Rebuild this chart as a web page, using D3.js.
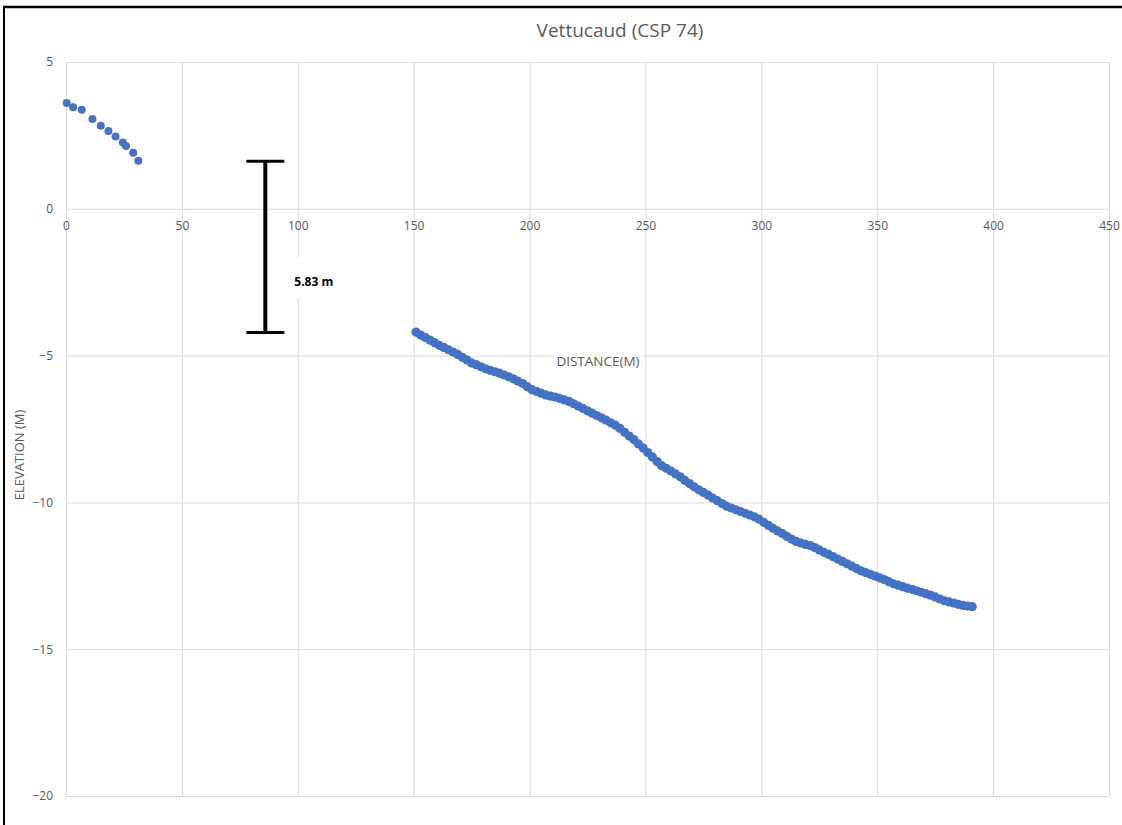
<!DOCTYPE html>
<html>
<head>
<meta charset="utf-8">
<script src="https://cdn.jsdelivr.net/npm/d3@7"></script>
<style>
  html, body { margin: 0; padding: 0; background: #ffffff; }
  svg { display: block; }
  text { font-family: "Open Sans", "Liberation Sans", sans-serif; }
</style>
</head>
<body>
<script>
// Beach profile survey, Vettucaud (CSP 74)
const chartTitle = "Vettucaud (CSP 74)";
const xTicks = [0, 50, 100, 150, 200, 250, 300, 350, 400, 450];
const yTicks = [5, 0, -5, -10, -15, -20];

// Land survey points (distance m, elevation m)
const landDistance = [0.3, 3.1, 6.8, 11.4, 15.0, 18.3, 21.4, 24.5, 25.9, 29.0, 31.2];
const landElevation = [3.60, 3.46, 3.37, 3.06, 2.83, 2.65, 2.46, 2.26, 2.14, 1.91, 1.64];

// Nearshore bathymetry points (distance m, elevation m)
const seaDistance = [
  151, 153, 155, 157, 159, 161, 163, 165, 167, 169, 171, 173, 175, 177, 179, 181,
  183, 185, 187, 189, 191, 193, 195, 197, 199, 201, 203, 205, 207, 209, 211, 213,
  215, 217, 219, 221, 223, 225, 227, 229, 231, 233, 235, 237, 239, 241, 243, 245,
  247, 249, 251, 253, 255, 257, 259, 261, 263, 265, 267, 269, 271, 273, 275, 277,
  279, 281, 283, 285, 287, 289, 291, 293, 295, 297, 299, 301, 303, 305, 307, 309,
  311, 313, 315, 317, 319, 321, 323, 325, 327, 329, 331, 333, 335, 337, 339, 341,
  343, 345, 347, 349, 351, 353, 355, 357, 359, 361, 363, 365, 367, 369, 371, 373,
  375, 377, 379, 381, 383, 385, 387, 389, 391
];
const seaElevation = [
  -4.20, -4.30, -4.38, -4.47, -4.56, -4.65, -4.72, -4.80, -4.88, -4.96, -5.06, -5.15, -5.25, -5.31, -5.38, -5.45,
  -5.50, -5.55, -5.60, -5.66, -5.72, -5.79, -5.87, -5.95, -6.06, -6.16, -6.22, -6.28, -6.34, -6.38, -6.41, -6.46,
  -6.51, -6.56, -6.64, -6.72, -6.80, -6.88, -6.96, -7.04, -7.12, -7.20, -7.29, -7.37, -7.48, -7.61, -7.74, -7.86,
  -8.01, -8.15, -8.30, -8.45, -8.61, -8.75, -8.84, -8.93, -9.03, -9.13, -9.25, -9.36, -9.47, -9.57, -9.66, -9.75,
  -9.85, -9.94, -10.04, -10.13, -10.19, -10.25, -10.31, -10.37, -10.43, -10.49, -10.57, -10.68, -10.78, -10.88, -10.97, -11.06,
  -11.16, -11.25, -11.33, -11.38, -11.43, -11.47, -11.54, -11.62, -11.70, -11.77, -11.85, -11.93, -12.01, -12.09, -12.17, -12.25,
  -12.33, -12.39, -12.45, -12.51, -12.57, -12.63, -12.70, -12.77, -12.82, -12.87, -12.92, -12.96, -13.01, -13.06, -13.11, -13.16,
  -13.22, -13.29, -13.35, -13.39, -13.43, -13.47, -13.51, -13.53, -13.55
];

// Elevation gap marker between the end of land and the start of the sea profile
const gapDistance = [86];
const gapTop = [1.62];
const gapBottom = [-4.21];

const W = 1122, H = 825;
const svg = d3.select("body").append("svg").attr("width", W).attr("height", H);

const x = d3.scaleLinear().domain([0, 450]).range([66, 1109]);
const y = d3.scaleLinear().domain([-20, 5]).range([796, 62]);

const grid = "#d9d9d9", textGrey = "#595959", blue = "#4472c4";

// frame edges
svg.append("line").attr("x1", 3).attr("x2", W).attr("y1", 7).attr("y2", 7)
  .attr("stroke", "#000").attr("stroke-width", 2.5);
svg.append("line").attr("x1", 4).attr("x2", 4).attr("y1", 6).attr("y2", H)
  .attr("stroke", "#000").attr("stroke-width", 2);

// vertical gridlines
const vGrid = svg.append("g").attr("transform", `translate(0,${y(-20)})`)
  .call(d3.axisBottom(x).tickValues(xTicks).tickSize(-(y(-20) - y(5))).tickFormat(""));
vGrid.select(".domain").remove();
vGrid.selectAll(".tick line").attr("stroke", grid).attr("stroke-width", 1);

// horizontal gridlines
const hGrid = svg.append("g").attr("transform", `translate(${x(0)},0)`)
  .call(d3.axisLeft(y).tickValues(yTicks).tickSize(-(x(450) - x(0))).tickFormat(""));
hGrid.select(".domain").remove();
hGrid.selectAll(".tick line").attr("stroke", grid).attr("stroke-width", 1);

// gap marker with its label (label box masks the gridline behind it)
const gap = gapDistance.map((d, i) => ({ d, top: gapTop[i], bottom: gapBottom[i] }));
const gapG = svg.append("g").selectAll("g").data(gap).join("g");
gapG.each(function (d) {
  const g = d3.select(this);
  const cy = y(d.bottom) - 50;
  const t = g.append("text").attr("x", x(d.d) + 29).attr("y", cy + 4)
    .attr("fill", "#000").style("font-size", "12px").style("font-weight", "bold")
    .text((d.top - d.bottom).toFixed(2) + " m");
  const b = t.node().getBBox();
  g.insert("rect", "text").attr("x", b.x - 4).attr("y", cy - 25)
    .attr("width", b.width + 8).attr("height", 41).attr("fill", "#fff");
});
gapG.append("line").attr("x1", d => x(d.d)).attr("x2", d => x(d.d))
  .attr("y1", d => y(d.top)).attr("y2", d => y(d.bottom))
  .attr("stroke", "#000").attr("stroke-width", 4);
gapG.append("line").attr("x1", d => x(d.d) - 19).attr("x2", d => x(d.d) + 19)
  .attr("y1", d => y(d.top)).attr("y2", d => y(d.top))
  .attr("stroke", "#000").attr("stroke-width", 3);
gapG.append("line").attr("x1", d => x(d.d) - 19).attr("x2", d => x(d.d) + 19)
  .attr("y1", d => y(d.bottom)).attr("y2", d => y(d.bottom))
  .attr("stroke", "#000").attr("stroke-width", 3);

// x tick labels along the zero line
const xAxis = svg.append("g").attr("transform", `translate(0,${y(0)})`)
  .call(d3.axisBottom(x).tickValues(xTicks).tickSize(0).tickPadding(13).tickFormat(d3.format("d")));
xAxis.select(".domain").remove();
xAxis.selectAll("text").attr("fill", textGrey).style("font-size", "12px")
  .style("font-family", "'Open Sans', sans-serif");

// y tick labels
const yAxis = svg.append("g").attr("transform", `translate(${x(0)},0)`)
  .call(d3.axisLeft(y).tickValues(yTicks).tickSize(0).tickPadding(13).tickFormat(d3.format("d")));
yAxis.select(".domain").remove();
yAxis.selectAll("text").attr("fill", textGrey).style("font-size", "12px")
  .style("font-family", "'Open Sans', sans-serif");

// title
svg.append("text").attr("x", 620).attr("y", 37).attr("text-anchor", "middle")
  .attr("fill", textGrey).style("font-size", "19px").text(chartTitle);

// axis titles
const xTitle = svg.append("g");
const xTitleText = xTitle.append("text").attr("x", 598).attr("y", 366).attr("text-anchor", "middle")
  .attr("fill", textGrey).style("font-size", "13.5px").text("DISTANCE(M)");
const xb = xTitleText.node().getBBox();
xTitle.insert("rect", "text").attr("x", xb.x - 2).attr("y", xb.y - 2)
  .attr("width", xb.width + 4).attr("height", xb.height + 4).attr("fill", "#fff");

svg.append("text").attr("transform", "translate(24,455) rotate(-90)").attr("text-anchor", "middle")
  .attr("fill", textGrey).style("font-size", "13px").text("ELEVATION (M)");

// data points
const land = landDistance.map((d, i) => [d, landElevation[i]]);
const sea = seaDistance.map((d, i) => [d, seaElevation[i]]);

svg.append("g").selectAll("circle").data(land).join("circle")
  .attr("cx", d => x(d[0])).attr("cy", d => y(d[1])).attr("r", 4).attr("fill", blue);
svg.append("g").selectAll("circle").data(sea).join("circle")
  .attr("cx", d => x(d[0])).attr("cy", d => y(d[1])).attr("r", 4.6).attr("fill", blue);
</script>
</body>
</html>
